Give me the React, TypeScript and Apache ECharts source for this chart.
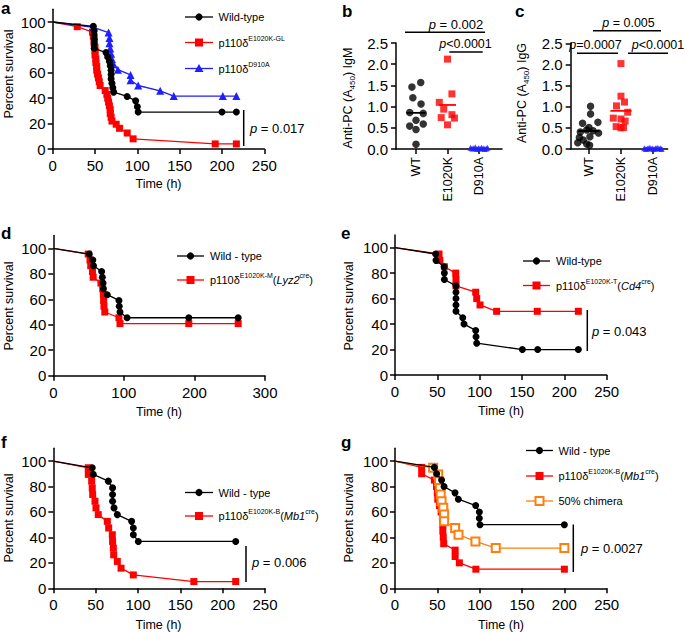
import React, { useEffect, useRef } from 'react';
import * as echarts from 'echarts';

const FONT = '"Liberation Sans", Arial, Helvetica, sans-serif';

// ---------- Panel a: survival (time h, percent) ----------
const aWildType = [[0,100],[48,96.6],[49,93.1],[49,89.7],[49,86.2],[49,82.8],[49,79.3],[63,75.9],[65,72.4],[67,69.0],[68,65.5],[69,62.1],[69,58.6],[69,55.2],[70,51.7],[71,48.3],[72,44.8],[88,41.4],[98,37.9],[100,33.3],[101,29.1],[200,29.1],[217,29.1]];
const aE1020KGL = [[0,100],[29,96.3],[47,92],[48,89],[49,86],[49,83],[50,80],[50,77],[50,74],[51,71],[51,68],[52,65],[52,62],[53,59],[54,56],[55,53],[56,50],[62,46],[64,43],[65,40],[66,37],[67,34],[68,31],[68,28],[69,25],[70,22],[75,19.5],[79,16.3],[88,12.6],[95,8],[192,4],[217,4]];
const aD910A = [[0,100],[48,95.8],[66,91.7],[67,87.5],[67,83.3],[68,79.2],[69,75],[70,70.8],[72,66.7],[77,62.5],[92,58.3],[92,54.2],[101,50],[127,45.8],[143,41.7],[201,41.7],[217,41.7]];

// ---------- Panels b, c: scatter (A450) ----------
const groupNames = ['WT', 'E1020K', 'D910A'];
const bWT = [1.57,1.46,1.21,1.06,0.86,0.84,0.68,0.59,0.54,0.46,0.11];
const bE1020K = [2.12,1.30,1.10,0.94,0.81,0.74,0.73,0.57];
const bD910A = [0.03,0.01,0.02,0.04,0.0,0.02,0.01,0.03,0.02,0.0,0.01,0.03];
const cWT = [1.01,0.83,0.63,0.61,0.51,0.45,0.43,0.40,0.38,0.29,0.27,0.21,0.15,0.12,0.09];
const cE1020K = [2.02,1.25,1.11,1.02,0.87,0.73,0.71,0.66,0.53,0.50,0.51];
const cD910A = [0.02,0.0,0.01,0.03,0.02,0.01,0.0,0.02,0.03,0.01,0.02,0.0];
// horizontal jitter (layout only)
const bWTJit = [0.15,-0.13,-0.1,0.16,-0.2,0.23,0,0.23,-0.2,0,0];
const bE1020KJit = [0,0.14,-0.26,-0.12,0.14,-0.2,0.22,0];
const cWTJit = [0.05,0.05,0.28,-0.2,0,-0.07,0.13,-0.27,0.3,0.03,-0.3,-0.18,-0.35,-0.07,0.02];
const cE1020KJit = [0,0,0.11,-0.14,0.21,-0.24,0,0.13,-0.15,0,0.08];
const blueJit = [-0.27,-0.22,-0.17,-0.12,-0.07,-0.02,0.03,0.08,0.13,0.18,0.23,0.27];

// ---------- Panel d ----------
const dWildType = [[0,100],[51,95.5],[56,90.9],[57,86.4],[68.5,81.8],[69.5,77.3],[70.5,72.7],[71,68.2],[76.5,63.6],[93,59.1],[93.5,54.5],[94.5,50],[104.5,45.5],[192,45.5],[262,45.5]];
const dE1020KM = [[0,100],[49.5,95.5],[52,90.9],[53,86.4],[55.5,81.8],[56.5,77.3],[67.5,72.7],[70,68.2],[71,63.6],[71.3,59.1],[71.8,54.5],[73,50],[93,45.5],[94.5,40.9],[192,40.9],[262,40.9]];

// ---------- Panel e ----------
const eWildType = [[0,100],[48,95],[48.4,90],[58,85],[58.3,80],[58.3,75],[72,70],[72,65],[72,60],[72,55],[72,50],[80,45],[81.5,40],[95.3,35],[95.7,30],[96.5,25],[150.4,20],[168.5,20],[216.5,20]];
const eE1020KT = [[0,100],[52,95],[53,90],[58.3,85],[71.7,80],[72,75],[72,70],[95.3,65],[96.5,60],[100.4,55],[120,50],[168,50],[216.5,50]];

// ---------- Panel f ----------
const fWildType = [[0,100],[46,94.7],[47.2,89.5],[65,84.2],[70,78.9],[70,73.7],[70,68.4],[71.7,63.2],[75.6,57.9],[92.5,52.6],[94.5,47.4],[94.5,42.1],[100.4,36.8],[215.4,36.8]];
const fE1020KB = [[0,100],[41.3,94.7],[41.3,89.5],[45.3,84.2],[46,78.9],[46.5,73.7],[49.2,68.4],[50.4,63.2],[53.1,57.9],[63.8,52.6],[65.4,47.4],[69.7,42.1],[70,36.8],[70.9,31.6],[71.3,26.3],[75.6,21.1],[80,15.8],[94.5,10.5],[166,5.3],[215.4,5.3]];

// ---------- Panel g ----------
const gWildType = [[0,100],[46.5,95],[49.2,90],[55,85],[57.9,80],[70.9,75],[74.8,70],[95.3,65],[99.6,60],[99.6,55],[100.4,50],[200,50]];
const gE1020KB = [[0,100],[31.5,95],[31.5,90],[46.5,85],[49,80],[50,75],[50.5,70],[52.5,65],[54.5,60],[56,55],[56.5,50],[56.5,45],[57,40],[57.5,35],[71,30],[71,25],[76,20],[95.5,15],[200,15]];
const gChimera = [[0,100],[45,94.7],[51,89.5],[52,84.2],[53,78.9],[54,73.7],[55,68.4],[57,63.2],[58,57.9],[58,52.6],[71,47.4],[75,42.1],[95,36.8],[119,31.6],[200,31.6]];

const survTicks = [0, 20, 40, 60, 80, 100];

const BLACK = '#000000';
const RED = '#ff0000';
const BLUE = '#1f1fff';
const ORANGE = '#ff7f0e';

const axisLine = { show: true, onZero: false, lineStyle: { color: '#000', width: 1.5 } };
const axisTick = { show: true, length: 5, inside: false, lineStyle: { color: '#000', width: 1.5 } };
const tickFont = { fontFamily: FONT, fontSize: 15, color: '#000', fontWeight: 'normal' };

function survX(gi: number, max: number, interval: number) {
  return {
    type: 'value', gridIndex: gi, min: 0, max, interval,
    axisLine, axisTick, splitLine: { show: false },
    axisLabel: { ...tickFont, margin: 9 },
  };
}
function survY(gi: number) {
  return {
    type: 'value', gridIndex: gi, min: 0, max: 110, interval: 20,
    axisLine, axisTick: { ...axisTick, customValues: survTicks }, splitLine: { show: false },
    axisLabel: { ...tickFont, margin: 7, customValues: survTicks },
  };
}
function dotX(gi: number, min: number, max: number) {
  return {
    type: 'value', gridIndex: gi, min, max,
    axisLine, axisTick: { ...axisTick, customValues: [0, 1, 2] }, splitLine: { show: false },
    axisLabel: { fontFamily: FONT, fontSize: 12.5, color: '#000', margin: 8, rotate: 90, customValues: [0, 1, 2],
      formatter: (v: number) => groupNames[Math.round(v)] || '' },
  };
}
function dotY(gi: number) {
  return {
    type: 'value', gridIndex: gi, min: 0, max: 2.5, interval: 0.5,
    axisLine, axisTick, splitLine: { show: false },
    axisLabel: { ...tickFont, margin: 8, formatter: (v: number) => v.toFixed(1) },
  };
}

function surv(name: string, data: number[][], gi: number, color: string, symbol: string, size: number, hollow = false, z = 2) {
  return {
    type: 'line', name, xAxisIndex: gi, yAxisIndex: gi,
    data: data.map((d, i) => (i === 0 ? { value: d, symbol: 'none' } : d)),
    symbol, symbolSize: size, showSymbol: true, showAllSymbol: true,
    lineStyle: { color, width: 1.3 },
    itemStyle: hollow ? { color: '#fff', borderColor: color, borderWidth: 2 } : { color },
    z,
  };
}
function dots(name: string, vals: number[], jit: number[], center: number, gi: number, color: string, symbol: string, size: number) {
  return {
    type: 'scatter', name, xAxisIndex: gi, yAxisIndex: gi,
    data: vals.map((v, i) => [center + (jit[i] || 0), v]),
    symbol, symbolSize: size, itemStyle: { color }, z: 3,
  };
}
function meanLine(vals: number[], center: number, gi: number, color: string, half = 0.3) {
  const m = vals.reduce((a, b) => a + b, 0) / vals.length;
  return {
    type: 'line', xAxisIndex: gi, yAxisIndex: gi, symbol: 'none',
    data: [[center - half, m], [center + half, m]],
    lineStyle: { color, width: 1.8 }, z: 4,
  };
}

const W = { fontWeight: 'normal' };
const rich = {
  n: { ...W, fontFamily: FONT, fontSize: 11, lineHeight: 16, fill: '#000' },
  i: { ...W, fontFamily: FONT, fontSize: 11, lineHeight: 16, fontStyle: 'italic', fill: '#000' },
  s: { ...W, fontFamily: FONT, fontSize: 7, lineHeight: 9, verticalAlign: 'top', fill: '#000' },
};
const pRich = {
  n: { ...W, fontFamily: FONT, fontSize: 13, lineHeight: 16, fill: '#000' },
  i: { ...W, fontFamily: FONT, fontSize: 13, lineHeight: 16, fontStyle: 'italic', fill: '#000' },
};
const pRichS = {
  n: { ...W, fontFamily: FONT, fontSize: 12.5, lineHeight: 16, fill: '#000' },
  i: { ...W, fontFamily: FONT, fontSize: 12.5, lineHeight: 16, fontStyle: 'italic', fill: '#000' },
};
const nameRich = {
  n: { ...W, fontFamily: FONT, fontSize: 12.5, lineHeight: 16, fill: '#000' },
  b: { ...W, fontFamily: FONT, fontSize: 8, lineHeight: 9, verticalAlign: 'bottom', fill: '#000' },
};

function legendRow(x1: number, x2: number, y: number, color: string, kind: string, tx: number, text: string, isRich = true) {
  const mx = (x1 + x2) / 2;
  const els: any[] = [{ type: 'line', shape: { x1, y1: y, x2, y2: y }, style: { stroke: color, lineWidth: 1.3 } }];
  if (kind === 'circle') els.push({ type: 'circle', shape: { cx: mx, cy: y, r: 3.6 }, style: { fill: color } });
  if (kind === 'rect') els.push({ type: 'rect', shape: { x: mx - 4, y: y - 4, width: 8, height: 8 }, style: { fill: color } });
  if (kind === 'open') els.push({ type: 'rect', shape: { x: mx - 4, y: y - 4, width: 8, height: 8 }, style: { fill: '#fff', stroke: color, lineWidth: 2 } });
  if (kind === 'tri') els.push({ type: 'polygon', shape: { points: [[mx, y - 4.5], [mx + 4.5, y + 3.5], [mx - 4.5, y + 3.5]] }, style: { fill: color } });
  els.push({ type: 'text', x: tx, y, style: isRich
    ? { text, rich, align: 'left', verticalAlign: 'middle', fontFamily: FONT, fontSize: 11, fontWeight: 'normal', fill: '#000' }
    : { text, align: 'left', verticalAlign: 'middle', fontFamily: FONT, fontSize: 11, fontWeight: 'normal', fill: '#000' } });
  return els;
}
function txt(x: number, y: number, text: string, r: any, align = 'left', rotation = 0) {
  return { type: 'text', x, y, rotation, style: { text, rich: r, align, verticalAlign: 'middle', fontFamily: FONT, fontSize: 12, fontWeight: 'normal', fill: '#000' } };
}
function plain(x: number, y: number, text: string, size: number, rotation = 0) {
  return { type: 'text', x, y, rotation, style: { text, align: 'center', verticalAlign: 'middle', fontFamily: FONT, fontSize: size, fontWeight: 'normal', fill: '#000' } };
}
function letter(x: number, y: number, s: string) {
  return { type: 'text', x, y, style: { text: s, fontFamily: FONT, fontSize: 17, fontWeight: 'bold', fill: '#000', align: 'left', verticalAlign: 'middle' } };
}
function seg(x1: number, y1: number, x2: number, y2: number) {
  return { type: 'line', shape: { x1, y1, x2, y2 }, style: { stroke: '#000', lineWidth: 1.5 } };
}

export default function App() {
  const ref = useRef<HTMLDivElement>(null);
  useEffect(() => {
    if (!ref.current) return;
    const chart = echarts.init(ref.current, undefined, { renderer: 'svg' });
    const PS = 'Percent survival';
    const TH = 'Time (h)';
    const R = Math.PI / 2;
    const graphic: any[] = [
      letter(1, 8, 'a'), letter(342, 11, 'b'), letter(515, 11, 'c'),
      letter(1, 233, 'd'), letter(341, 233, 'e'), letter(1, 442, 'f'), letter(341, 442, 'g'),
      // axis names
      plain(8.5, 74, PS, 12.5, R),
      plain(8.5, 306, PS, 12.5, R),
      plain(348.5, 306, PS, 12.5, R),
      plain(8.5, 518, PS, 12.5, R),
      plain(348.5, 518, PS, 12.5, R),
      txt(348, 98, '{n|Anti-PC (A}{b|450}{n|) IgM}', nameRich, 'center', R),
      txt(522, 93, '{n|Anti-PC (A}{b|450}{n|) IgG}', nameRich, 'center', R),
      plain(158.5, 184, TH, 12.5),
      plain(159, 411.5, TH, 12.5),
      plain(501, 410.5, TH, 12.5),
      plain(158.5, 625, TH, 12.5),
      plain(501, 624.5, TH, 12.5),
      // legends
      ...legendRow(185, 213, 17, BLACK, 'circle', 218.5, 'Wild-type', false),
      ...legendRow(185, 213, 42.5, RED, 'rect', 218.5, '{n|p110δ}{s|E1020K-GL}'),
      ...legendRow(185, 213, 68.5, BLUE, 'tri', 218.5, '{n|p110δ}{s|D910A}'),
      ...legendRow(177, 204, 256, BLACK, 'circle', 210, 'Wild - type', false),
      ...legendRow(177, 204, 280, RED, 'rect', 210, '{n|p110δ}{s|E1020K-M}{n|(}{i|Lyz2}{s|cre}{n|)}'),
      ...legendRow(523, 550, 261, BLACK, 'circle', 556, 'Wild-type', false),
      ...legendRow(523, 550, 285.5, RED, 'rect', 556, '{n|p110δ}{s|E1020K-T}{n|(}{i|Cd4}{s|cre}{n|)}'),
      ...legendRow(185, 213, 492.5, BLACK, 'circle', 218.5, 'Wild - type', false),
      ...legendRow(185, 213, 516, RED, 'rect', 218.5, '{n|p110δ}{s|E1020K-B}{n|(}{i|Mb1}{s|cre}{n|)}'),
      ...legendRow(526, 553, 450.5, BLACK, 'circle', 558.5, 'Wild - type', false),
      ...legendRow(526, 553, 476, RED, 'rect', 558.5, '{n|p110δ}{s|E1020K-B}{n|(}{i|Mb1}{s|cre}{n|)}'),
      ...legendRow(526, 553, 501, ORANGE, 'open', 558.5, '50% chimera', false),
      // p-values survival
      seg(243.7, 110, 243.7, 146), txt(250, 128, '{i|p}{n| = 0.017}', pRich),
      seg(587.3, 310, 587.3, 351), txt(592, 331, '{i|p}{n| = 0.043}', pRich),
      seg(246, 546, 246, 582), txt(252, 562.5, '{i|p}{n| = 0.006}', pRich),
      seg(573.3, 524.5, 573.3, 572), txt(581, 548.5, '{i|p}{n| = 0.0027}', pRich),
      // significance bars b
      seg(405, 32.3, 485, 32.3), txt(456, 24, '{i|p}{n| = 0.002}', pRich, 'center'),
      seg(449.3, 52, 482.7, 52), txt(465.5, 43.5, '{i|p}{n|<0.0001}', pRichS, 'center'),
      // significance bars c
      seg(593, 30.7, 661, 30.7), txt(628.5, 23, '{i|p}{n| = 0.005}', pRichS, 'center'),
      seg(577, 53.3, 618, 53.3), txt(595.5, 45, '{i|p}{n|=0.0007}', pRichS, 'center'),
      seg(628, 53.3, 668, 53.3), txt(658, 45, '{i|p}{n|<0.0001}', pRichS, 'center'),
    ];

    chart.setOption({
      animation: false,
      backgroundColor: '#fff',
      textStyle: { fontFamily: FONT, fontWeight: 'normal' },
      grid: [
        { left: 52.7, top: 9.3, width: 211.6, height: 139.7, outerBoundsMode: 'none' },
        { left: 396, top: 43, width: 106, height: 106, outerBoundsMode: 'none' },
        { left: 570.7, top: 43.3, width: 97, height: 105.7, outerBoundsMode: 'none' },
        { left: 53.3, top: 235.6, width: 211.7, height: 140.1, outerBoundsMode: 'none' },
        { left: 395, top: 234.9, width: 211.7, height: 140.1, outerBoundsMode: 'none' },
        { left: 53.3, top: 448.3, width: 211.7, height: 140, outerBoundsMode: 'none' },
        { left: 395, top: 448.3, width: 211.7, height: 140, outerBoundsMode: 'none' },
      ],
      xAxis: [
        survX(0, 250, 50), dotX(1, -0.635, 2.73), dotX(2, -0.57, 2.46),
        survX(3, 300, 100), survX(4, 250, 50), survX(5, 250, 50), survX(6, 250, 50),
      ],
      yAxis: [survY(0), dotY(1), dotY(2), survY(3), survY(4), survY(5), survY(6)],
      graphic,
      series: [
        surv('a p110δ E1020K-GL', aE1020KGL, 0, RED, 'rect', 7),
        surv('a p110δ D910A', aD910A, 0, BLUE, 'triangle', 8),
        surv('a Wild-type', aWildType, 0, BLACK, 'circle', 7, false, 3),
        dots('b WT', bWT, bWTJit, 0, 1, BLACK, 'circle', 7.5),
        dots('b E1020K', bE1020K, bE1020KJit, 1, 1, RED, 'rect', 7),
        dots('b D910A', bD910A, blueJit, 2, 1, BLUE, 'triangle', 6),
        meanLine(bWT, 0, 1, BLACK),
        meanLine(bE1020K, 1, 1, RED, 0.27),
        meanLine(bD910A, 2, 1, BLUE),
        dots('c WT', cWT, cWTJit, 0, 2, BLACK, 'circle', 7.5),
        dots('c E1020K', cE1020K, cE1020KJit, 1, 2, RED, 'rect', 7),
        dots('c D910A', cD910A, blueJit, 2, 2, BLUE, 'triangle', 6),
        meanLine(cWT, 0, 2, BLACK, 0.33),
        meanLine(cE1020K, 1, 2, RED, 0.33),
        meanLine(cD910A, 2, 2, BLUE),
        surv('d E1020K-M', dE1020KM, 3, RED, 'rect', 7),
        surv('d Wild-type', dWildType, 3, BLACK, 'circle', 7, false, 3),
        surv('e E1020K-T', eE1020KT, 4, RED, 'rect', 7),
        surv('e Wild-type', eWildType, 4, BLACK, 'circle', 7, false, 3),
        surv('f E1020K-B', fE1020KB, 5, RED, 'rect', 7),
        surv('f Wild-type', fWildType, 5, BLACK, 'circle', 7, false, 3),
        surv('g E1020K-B', gE1020KB, 6, RED, 'rect', 7),
        surv('g chimera', gChimera, 6, ORANGE, 'rect', 8, true, 3),
        surv('g Wild-type', gWildType, 6, BLACK, 'circle', 7, false, 4),
      ],
    });
    return () => chart.dispose();
  }, []);
  return <div ref={ref} style={{ position: 'absolute', left: 0, top: 0, width: 685, height: 632 }} />;
}
